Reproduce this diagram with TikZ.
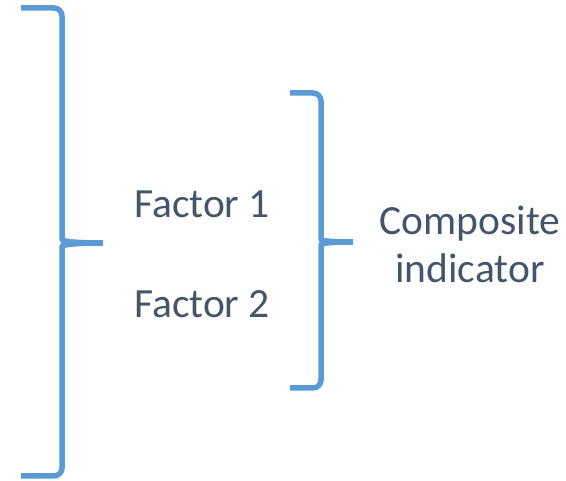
\documentclass[tikz,border=0pt]{standalone}
\usepackage{fontspec}
\setmainfont{Carlito}
\definecolor{bracecol}{HTML}{5B9BD5}
\definecolor{textcol}{HTML}{44546A}
\begin{document}
\begin{tikzpicture}[x=1pt,y=-1pt,
  brace/.style={draw=bracecol,line width=5.5pt,line join=round},
  lbl/.style={text=textcol,font=\fontsize{41.5}{48}\selectfont,inner sep=0pt,anchor=base}]
\useasboundingbox (0,0) rectangle (566,481);
% left brace
\draw[brace] (21,8) [rounded corners=8pt] -- (62,8) -- (62,232) [sharp corners]
  .. controls (62,240) and (66,243) .. (103,243);
\draw[brace] (21,476) [rounded corners=8pt] -- (62,476) -- (62,254) [sharp corners]
  .. controls (62,246) and (66,243) .. (103,243);
% right brace
\draw[brace] (290,93) [rounded corners=8pt] -- (321,93) -- (321,232) [sharp corners]
  .. controls (321,240) and (325,242) .. (353,242);
\draw[brace] (290,388) [rounded corners=8pt] -- (321,388) -- (321,252) [sharp corners]
  .. controls (321,244) and (325,242) .. (353,242);
\node[lbl] (f1) at (202,218) {Factor 1};
\node[lbl] (f2) at (202,318) {Factor 2};
\node[lbl] (c1) at (470,235) {Composite};
\node[lbl] (c2) at (470,283) {indicator};
\end{tikzpicture}
\end{document}
